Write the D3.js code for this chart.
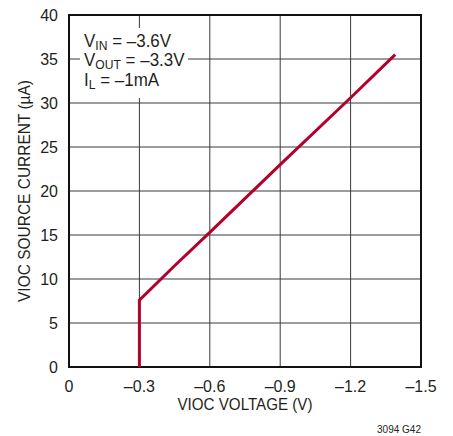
<!DOCTYPE html>
<html><head><meta charset="utf-8">
<script src="https://cdn.jsdelivr.net/npm/d3@7"></script>
<style>
body{margin:0;background:#fff;}
svg text{font-family:"Liberation Sans",Arial,"Helvetica Neue",sans-serif;fill:#231f20;}
</style></head>
<body><svg id="c" width="453" height="436"></svg>
<script>
const voltage = [-0.3, -0.3, -0.45, -0.6, -0.9, -1.2, -1.39];
const current = [0, 7.6, 11.5, 15.3, 23.0, 30.6, 35.5];
const xTicks = [0, -0.3, -0.6, -0.9, -1.2, -1.5];
const xTickLabels = ["0", "–0.3", "–0.6", "–0.9", "–1.2", "–1.5"];
const yTicks = [0, 5, 10, 15, 20, 25, 30, 35, 40];
const yTickLabels = ["0", "5", "10", "15", "20", "25", "30", "35", "40"];
const xTitle = "VIOC VOLTAGE (V)";
const yTitle = "VIOC SOURCE CURRENT (µA)";
const note = "3094 G42";

const L = 69, T = 15, R = 421, B = 367;
const svg = d3.select("#c");
const x = d3.scaleLinear().domain([0, -1.5]).range([L, R]);
const y = d3.scaleLinear().domain([0, 40]).range([B, T]);

// grid
const g = svg.append("g");
g.selectAll(".vx").data(xTicks.slice(1, -1)).join("line")
  .attr("x1", d => x(d)).attr("x2", d => x(d)).attr("y1", T).attr("y2", B)
  .attr("stroke", "#3a3a3a").attr("stroke-width", 1);
g.selectAll(".hy").data(yTicks.slice(1, -1)).join("line")
  .attr("y1", d => y(d)).attr("y2", d => y(d)).attr("x1", L).attr("x2", R)
  .attr("stroke", "#3a3a3a").attr("stroke-width", 1);

// legend background
svg.append("rect").attr("x", 80).attr("y", 28).attr("width", 108).attr("height", 70).attr("fill", "#fff");

// frame
svg.append("rect").attr("x", L).attr("y", T).attr("width", R - L).attr("height", B - T)
  .attr("fill", "none").attr("stroke", "#111").attr("stroke-width", 2);

// curve
const line = d3.line().x((d, i) => x(voltage[i])).y((d, i) => y(current[i]));
svg.append("path").datum(current).attr("d", line)
  .attr("fill", "none").attr("stroke", "#b4002c").attr("stroke-width", 3)
  .attr("stroke-linejoin", "miter");

// axes labels
svg.selectAll(".yl").data(yTicks).join("text")
  .attr("x", 58).attr("y", d => y(d)).attr("dy", "0.36em")
  .attr("text-anchor", "end").attr("font-size", 16).text((d, i) => yTickLabels[i]);
svg.selectAll(".xl").data(xTicks).join("text")
  .attr("x", d => x(d)).attr("y", 392)
  .attr("text-anchor", "middle").attr("font-size", 16).text((d, i) => xTickLabels[i]);

svg.append("text").attr("x", (L + R) / 2).attr("y", 410).attr("text-anchor", "middle")
  .attr("font-size", 16.5).attr("textLength", 135).attr("lengthAdjust", "spacingAndGlyphs").text(xTitle);
svg.append("text").attr("transform", `translate(30,${(T + B) / 2}) rotate(-90)`)
  .attr("text-anchor", "middle").attr("font-size", 16.5).attr("textLength", 222)
  .attr("lengthAdjust", "spacingAndGlyphs").text(yTitle);
svg.append("text").attr("x", R).attr("y", 433).attr("text-anchor", "end")
  .attr("font-size", 10).text(note);

// legend
const leg = [
  ["V", "IN", " = –3.6V", 0],
  ["V", "OUT", " = –3.3V", 19.5],
  ["I", "L", " = –1mA", 40]
];
const lg = svg.append("g").attr("transform", "translate(84,46.5) scale(0.97,1)");
leg.forEach(([a, s, b, yy]) => {
  const t = lg.append("text").attr("x", 0).attr("y", yy).attr("font-size", 17.5);
  t.append("tspan").text(a);
  t.append("tspan").attr("dy", 3).attr("font-size", 12.5).text(s);
  t.append("tspan").attr("dy", -3).text(b);
});
</script></body></html>
